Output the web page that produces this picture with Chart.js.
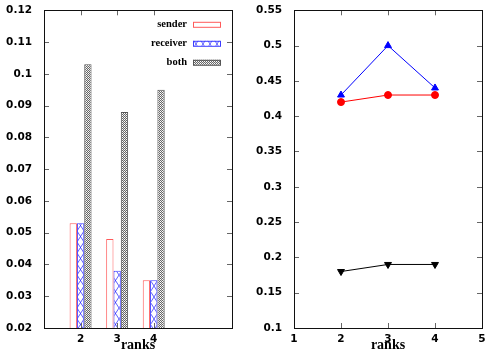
<!DOCTYPE html>
<html>
<head>
<meta charset="utf-8">
<script src="https://cdn.jsdelivr.net/npm/chart.js@4.4.0/dist/chart.umd.min.js"></script>
<style>
  body { margin: 0; background: #fff; }
  .wrap { display: flex; width: 500px; height: 350px; }
  canvas { display: block; }
</style>
</head>
<body>
<div class="wrap">
  <canvas id="left" width="250" height="350"></canvas>
  <canvas id="right" width="250" height="350"></canvas>
</div>
<script>
// left panel: bars
const ranks = [2, 3, 4];
const sender = [0.053, 0.048, 0.035];
const receiver = [0.053, 0.038, 0.035];
const both = [0.103, 0.088, 0.095];
const barTicksX = [2, 3, 4];

// right panel: lines
const lineRanks = [2, 3, 4];
const upSeries = [0.43, 0.50, 0.44];
const redSeries = [0.42, 0.43, 0.43];
const downSeries = [0.18, 0.19, 0.19];
const lineTicksX = [1, 2, 3, 4, 5];

function toPoints(xs, ys) {
  return xs.map(function (x, i) { return { x: x, y: ys[i] }; });
}

function makePattern(w, h, draw) {
  var c = document.createElement('canvas');
  c.width = w;
  c.height = h;
  var g = c.getContext('2d');
  g.fillStyle = '#fff';
  g.fillRect(0, 0, w, h);
  draw(g);
  return g.createPattern(c, 'repeat');
}

var crossBlue = makePattern(7, 11, function (g) {
  g.strokeStyle = 'rgba(40,40,255,0.75)';
  g.lineWidth = 1;
  g.beginPath();
  g.moveTo(0, 0); g.lineTo(7, 11);
  g.moveTo(7, 0); g.lineTo(0, 11);
  g.stroke();
});

var checkGray = makePattern(2, 2, function (g) {
  g.fillStyle = '#666';
  g.fillRect(0, 0, 1, 1);
  g.fillRect(1, 1, 1, 1);
  g.fillStyle = '#ddd';
  g.fillRect(1, 0, 1, 1);
});

const tickFont = { family: 'DejaVu Sans', weight: 'bold', size: 10.5 };
const titleFont = { family: 'Liberation Serif', weight: 'bold', size: 14 };

// gnuplot style numbers: 0.1 not 0.10
function plainNumber(value) {
  return String(Number(value.toFixed(3)));
}

// frame with inward ticks on all four sides
const framePlugin = {
  id: 'frame',
  afterDraw: function (chart) {
    var ctx = chart.ctx;
    var a = chart.chartArea;
    var xs = chart.scales.x, ys = chart.scales.y;
    ctx.save();
    ctx.strokeStyle = '#666';
    ctx.lineWidth = 1;
    ctx.beginPath();
    ys.ticks.forEach(function (t) {
      var y = Math.round(ys.getPixelForValue(t.value)) + 0.5;
      ctx.moveTo(a.left, y); ctx.lineTo(a.left + 5, y);
      ctx.moveTo(a.right, y); ctx.lineTo(a.right - 5, y);
    });
    xs.ticks.forEach(function (t) {
      var x = Math.round(xs.getPixelForValue(t.value)) + 0.5;
      ctx.moveTo(x, a.top); ctx.lineTo(x, a.top + 5);
      ctx.moveTo(x, a.bottom); ctx.lineTo(x, a.bottom - 5);
    });
    ctx.stroke();
    ctx.strokeStyle = '#111';
    ctx.strokeRect(Math.round(a.left) + 0.5, Math.round(a.top) + 0.5,
      Math.round(a.right - a.left), Math.round(a.bottom - a.top));
    ctx.restore();
  }
};

// gnuplot style key: label then sample box
const keyPlugin = {
  id: 'key',
  afterDraw: function (chart) {
    var ctx = chart.ctx;
    var a = chart.chartArea;
    ctx.save();
    ctx.font = 'bold 10.5px "Liberation Serif"';
    ctx.textAlign = 'right';
    ctx.textBaseline = 'middle';
    chart.data.datasets.forEach(function (ds, i) {
      var y = a.top + 14 + i * 19;
      ctx.fillStyle = '#000';
      ctx.fillText(ds.label, a.right - 45, y);
      ctx.fillStyle = ds.backgroundColor;
      ctx.fillRect(a.right - 39, y - 2.5, 28, 5);
      ctx.strokeStyle = ds.borderColor;
      ctx.lineWidth = 1;
      ctx.strokeRect(a.right - 38.5, y - 2, 27, 5);
    });
    ctx.restore();
  }
};

function xAxis(min, max, tickValues) {
  return {
    type: 'linear',
    min: min,
    max: max,
    offset: false,
    grid: { display: false },
    border: { display: false },
    afterBuildTicks: function (scale) {
      scale.ticks = tickValues.map(function (v) { return { value: v }; });
    },
    afterFit: function (scale) { scale.height = 22; },
    ticks: { font: tickFont, color: '#000', padding: -3, maxRotation: 0, callback: plainNumber },
    title: { display: true, text: 'ranks', font: titleFont, color: '#000', padding: { top: 0, bottom: -4 } }
  };
}

function yAxis(min, max, step) {
  return {
    min: min,
    max: max,
    grid: { display: false },
    border: { display: false },
    afterFit: function (scale) { scale.width = 44; },
    ticks: { stepSize: step, font: tickFont, color: '#000', padding: 4, callback: plainNumber }
  };
}

new Chart(document.getElementById('left'), {
  type: 'bar',
  data: {
    datasets: [
      { label: 'sender', data: toPoints(ranks, sender), backgroundColor: '#fff', borderColor: 'rgb(255,90,90)', borderWidth: 1 },
      { label: 'receiver', data: toPoints(ranks, receiver), backgroundColor: crossBlue, borderColor: 'rgb(60,60,255)', borderWidth: 1 },
      { label: 'both', data: toPoints(ranks, both), backgroundColor: checkGray, borderColor: '#555', borderWidth: 1 }
    ]
  },
  options: {
    responsive: false,
    animation: false,
    categoryPercentage: 0.6,
    barPercentage: 1,
    layout: { padding: { top: 10, right: 18, left: 0, bottom: 0 } },
    plugins: { legend: { display: false }, tooltip: { enabled: false } },
    scales: {
      x: xAxis(1, 6.14, barTicksX),
      y: yAxis(0.02, 0.12, 0.01)
    }
  },
  plugins: [framePlugin, keyPlugin]
});

new Chart(document.getElementById('right'), {
  type: 'line',
  data: {
    datasets: [
      { label: 'up', data: toPoints(lineRanks, upSeries), borderColor: '#0000ff', backgroundColor: '#0000ff', borderWidth: 1, pointStyle: 'triangle', pointRadius: 4 },
      { label: 'red', data: toPoints(lineRanks, redSeries), borderColor: '#ff0000', backgroundColor: '#ff0000', borderWidth: 1, pointStyle: 'circle', pointRadius: 3.5 },
      { label: 'down', data: toPoints(lineRanks, downSeries), borderColor: '#000', backgroundColor: '#000', borderWidth: 1, pointStyle: 'triangle', pointRotation: 180, pointRadius: 4 }
    ]
  },
  options: {
    responsive: false,
    animation: false,
    layout: { padding: { top: 10, right: 18, left: 0, bottom: 0 } },
    plugins: { legend: { display: false }, tooltip: { enabled: false } },
    scales: {
      x: xAxis(1, 5, lineTicksX),
      y: yAxis(0.1, 0.55, 0.05)
    }
  },
  plugins: [framePlugin]
});
</script>
</body>
</html>
